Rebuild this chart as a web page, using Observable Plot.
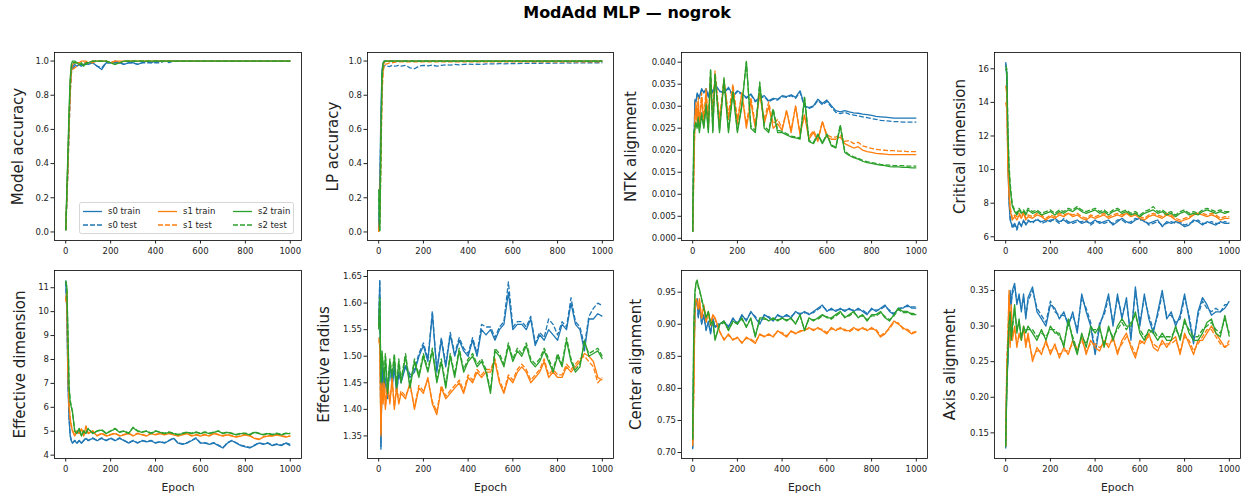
<!DOCTYPE html>
<html>
<head>
<meta charset="utf-8">
<script src="https://cdn.jsdelivr.net/npm/d3@7"></script>
<script src="https://cdn.jsdelivr.net/npm/@observablehq/plot@0.6"></script>
<style>
  body { margin: 0; background: #fff; }
  #fig { position: relative; width: 1252px; height: 499px; font-family: "DejaVu Sans", sans-serif; overflow: hidden; }
  #title { position: absolute; left: 0; top: 3px; width: 1254px; text-align: center; font: bold 16px "DejaVu Sans", sans-serif; color: #000; }
  .panel { position: absolute; }
  .panel g[aria-label="y-axis label"] { font-size: 15px; }
  .panel g[aria-label="x-axis label"] { font-size: 10.8px; }
  #legend { position: absolute; }
</style>
</head>
<body>
<div id="fig"><div id="title">ModAdd MLP — nogrok</div></div>
<script>
// ---------- data ----------
const epochs = [0,5,10,15,20,25,30,40,50,60,70,80,90,100,
  120,140,160,180,200, 220,240,260,280,300, 320,340,360,380,400,
  420,440,460,480,500, 520,540,560,580,600, 620,640,660,680,700,
  720,740,760,780,800, 820,840,860,880,900, 920,940,960,980,1000];

const seedNames = ["s0", "s1", "s2"];
const splitNames = ["train", "test"];
const xTicks = [0, 200, 400, 600, 800, 1000];

// Model accuracy
const accS0Train = [0.01,0.2,0.4,0.65,0.85,0.94,0.97,0.98,0.97,0.98,0.97,0.98,0.99,0.98, 0.99,0.97,0.95,0.99,0.99, 1,0.99,0.98,0.99,0.99, 0.98,0.99,1,0.99,1, 1,1,1,1,1, 1,1,1,1,1, 1,1,1,1,1, 1,1,1,1,1, 1,1,1,1,1, 1,1,1,1,1];
const accS0Test  = [0.01,0.18,0.38,0.6,0.82,0.93,0.96,0.97,0.97,0.98,0.97,0.98,0.98,0.98, 0.99,0.97,0.96,0.99,0.99, 0.99,0.99,0.98,0.99,0.99, 0.98,0.99,0.99,0.99,0.99, 0.99,1,0.99,1,1, 1,1,1,1,1, 1,1,1,1,1, 1,1,1,1,1, 1,1,1,1,1, 1,1,1,1,1];
const accS1Train = [0.01,0.22,0.42,0.66,0.86,0.95,0.98,0.99,0.99,0.99,1,1,1,0.99, 1,1,1,1,0.99, 1,1,1,1,1, 1,1,1,1,1, 1,1,1,1,1, 1,1,1,1,1, 1,1,1,1,1, 1,1,1,1,1, 1,1,1,1,1, 1,1,1,1,1];
const accS1Test  = [0.01,0.18,0.36,0.6,0.8,0.93,0.95,0.96,0.97,0.98,0.98,0.99,0.99,0.99, 0.99,1,1,1,0.99, 1,0.99,1,1,1, 1,1,1,1,1, 1,1,1,1,1, 1,1,1,1,1, 1,1,1,1,1, 1,1,1,1,1, 1,1,1,1,1, 1,1,1,1,1];
const accS2Train = [0.01,0.25,0.48,0.72,0.9,0.98,1,1,0.99,0.98,0.99,0.97,0.99,0.99, 1,1,1,1,0.99, 0.98,0.99,1,1,1, 1,1,1,1,1, 1,1,1,1,1, 1,1,1,1,1, 1,1,1,1,1, 1,1,1,1,1, 1,1,1,1,1, 1,1,1,1,1];
const accS2Test  = [0.01,0.22,0.44,0.68,0.88,0.97,0.99,0.99,0.99,0.98,0.98,0.97,0.98,0.99, 1,1,1,1,0.99, 0.98,0.99,1,1,1, 1,1,1,1,1, 1,1,1,1,1, 1,1,1,1,1, 1,1,1,1,1, 1,1,1,1,1, 1,1,1,1,1, 1,1,1,1,1];

// LP accuracy
const lpS0Train = [0.02,0.3,0.7,0.95,0.99,1,1,1,1,1,1,1,1,1, 1,1,1,1,1, 1,1,1,1,1, 1,1,1,1,1, 1,1,1,1,1, 1,1,1,1,1, 1,1,1,1,1, 1,1,1,1,1, 1,1,1,1,1, 1,1,1,1,1];
const lpS0Test  = [0.01,0.25,0.6,0.9,0.96,0.97,0.975,0.97,0.968,0.975,0.97,0.972,0.975,0.97, 0.975,0.96,0.955,0.97,0.975, 0.972,0.976,0.97,0.975,0.978, 0.976,0.98,0.978,0.98,0.982, 0.98,0.982,0.98,0.983,0.984, 0.983,0.985,0.984,0.985,0.986, 0.985,0.986,0.986,0.987,0.987, 0.987,0.988,0.987,0.988,0.988, 0.988,0.989,0.988,0.989,0.989, 0.989,0.99,0.99,0.99,0.99];
const lpS1Train = [0,0.1,0.5,0.85,0.97,0.99,1,1,1,1,1,1,1,1, 1,1,1,1,1, 1,1,1,1,1, 1,1,1,1,1, 1,1,1,1,1, 1,1,1,1,1, 1,1,1,1,1, 1,1,1,1,1, 1,1,1,1,1, 1,1,1,1,1];
const lpS1Test  = [0,0.05,0.4,0.8,0.94,0.97,0.98,0.985,0.99,0.99,0.992,0.995,0.995,0.995, 0.995,0.995,0.995,0.995,0.995, 0.995,0.995,0.995,0.995,0.995, 0.995,0.995,0.995,0.995,0.995, 0.995,0.995,0.995,0.995,0.995, 0.995,0.995,0.995,0.995,0.995, 0.995,0.995,0.995,0.995,0.995, 0.995,0.995,0.995,0.995,0.995, 0.995,0.995,0.995,0.995,0.995, 0.995,0.995,0.995,0.995,0.995];
const lpS2Train = [0.25,0.01,0.55,0.93,0.99,1,1,1,1,1,1,1,1,1, 1,1,1,1,1, 1,1,1,1,1, 1,1,1,1,1, 1,1,1,1,1, 1,1,1,1,1, 1,1,1,1,1, 1,1,1,1,1, 1,1,1,1,1, 1,1,1,1,1];
const lpS2Test  = [0.2,0,0.45,0.9,0.98,1,1,1,1,1,1,1,1,1, 1,1,1,1,1, 1,1,1,1,1, 1,1,1,1,1, 1,1,1,1,1, 1,1,1,1,1, 1,1,1,1,1, 1,1,1,1,1, 1,1,1,1,1, 1,1,1,1,1];

// NTK alignment
const ntkS0Train = [0.0015,0.02,0.0315,0.031,0.033,0.0325,0.032,0.034,0.033,0.034,0.032,0.0345,0.033,0.035, 0.0335,0.033,0.0343,0.0324,0.0335, 0.0329,0.032,0.0328,0.0312,0.032, 0.0324,0.0312,0.0318,0.0316,0.0324, 0.0322,0.0326,0.032,0.0335,0.0301, 0.0297,0.0301,0.0316,0.0306,0.0314, 0.0301,0.029,0.0287,0.029,0.0287, 0.0285,0.0284,0.0282,0.0281,0.0279, 0.0277,0.0276,0.0275,0.0274,0.0273, 0.0273,0.0273,0.0273,0.0273,0.0273];
const ntkS0Test  = [0.0015,0.019,0.031,0.0312,0.0328,0.0322,0.0318,0.0338,0.0332,0.0338,0.0322,0.0342,0.0332,0.0348, 0.0333,0.0332,0.034,0.0322,0.0333, 0.0327,0.0318,0.0326,0.031,0.0318, 0.0322,0.031,0.0316,0.0314,0.0322, 0.032,0.0324,0.0318,0.0332,0.0299, 0.0295,0.0299,0.0313,0.0303,0.0311, 0.0298,0.0286,0.0283,0.0286,0.0282, 0.028,0.0278,0.0276,0.0274,0.0272, 0.027,0.0268,0.0267,0.0266,0.0265, 0.0265,0.0264,0.0264,0.0264,0.0264];
const ntkS1Train = [0.0015,0.015,0.027,0.03,0.026,0.031,0.025,0.032,0.026,0.033,0.025,0.036,0.027,0.037, 0.026,0.036,0.027,0.034,0.026, 0.033,0.025,0.031,0.025,0.033, 0.026,0.03,0.025,0.026,0.0245, 0.029,0.024,0.03,0.0235,0.028, 0.0225,0.024,0.022,0.0265,0.023, 0.0225,0.0225,0.023,0.0215,0.021, 0.0205,0.0208,0.02,0.0197,0.0195, 0.0193,0.0192,0.0191,0.019,0.019, 0.019,0.019,0.019,0.019,0.019];
const ntkS1Test  = [0.0015,0.014,0.028,0.031,0.027,0.032,0.026,0.033,0.027,0.034,0.026,0.037,0.028,0.038, 0.027,0.036,0.028,0.035,0.027, 0.033,0.026,0.032,0.026,0.033, 0.027,0.031,0.026,0.027,0.025, 0.029,0.0245,0.03,0.024,0.028, 0.023,0.0245,0.0225,0.0265,0.0235, 0.023,0.023,0.0235,0.022,0.0222, 0.0215,0.0218,0.021,0.0207,0.0204, 0.0202,0.0201,0.02,0.0199,0.0199, 0.0198,0.0198,0.0197,0.0197,0.0197];
const ntkS2Train = [0.0015,0.024,0.025,0.026,0.025,0.027,0.024,0.028,0.025,0.03,0.024,0.038,0.024,0.037, 0.024,0.036,0.024,0.033,0.024, 0.03,0.0402,0.025,0.024,0.035, 0.025,0.024,0.029,0.024,0.024, 0.0235,0.023,0.0228,0.0225,0.032, 0.022,0.0215,0.0235,0.0215,0.0235, 0.021,0.0205,0.0255,0.0195,0.0188, 0.0183,0.018,0.0175,0.0172,0.017, 0.0168,0.0166,0.0165,0.0163,0.0162, 0.0162,0.0161,0.0161,0.016,0.016];
const ntkS2Test  = [0.0015,0.023,0.0255,0.0265,0.0255,0.0275,0.0245,0.0285,0.0255,0.0305,0.0245,0.0385,0.0245,0.0375, 0.0245,0.0365,0.0245,0.0335,0.0245, 0.0305,0.04,0.0255,0.0245,0.0355, 0.0255,0.0245,0.0295,0.0245,0.0243, 0.0238,0.0232,0.023,0.0228,0.032, 0.0222,0.0218,0.0237,0.0217,0.0237, 0.0212,0.0207,0.0258,0.0198,0.019, 0.0185,0.0182,0.0177,0.0174,0.0172, 0.017,0.0168,0.0167,0.0166,0.0165, 0.0165,0.0165,0.0164,0.0164,0.0164];

// Critical dimension
const cdS0Train = [16.3,15.5,10.5,8.0,7.0,6.8,6.6,6.8,6.5,6.9,6.6,7.0,6.7,6.9, 6.9,7.0,6.9,7.0,6.9, 7.1,6.9,7.0,6.8,6.9, 7.0,6.8,6.9,6.8,7.0, 6.8,6.9,7.0,6.7,6.9, 7.1,6.9,6.8,7.0,7.1, 6.9,6.8,6.9,7.0,6.6, 6.9,6.8,6.9,6.8,6.6, 6.7,7.0,6.9,6.7,6.9, 6.8,6.7,6.9,6.8,6.8];
const cdS0Test  = [16.4,15.8,11.0,8.3,7.1,6.9,6.5,6.7,6.4,6.8,6.7,6.9,6.8,7.0, 6.8,7.1,6.8,6.9,7.0, 7.0,6.8,7.1,6.9,6.8, 6.9,6.9,7.0,6.7,6.9, 6.9,6.8,6.9,6.8,7.0, 7.0,6.8,6.9,7.1,7.0, 7.0,6.7,6.8,6.9,6.7, 6.8,6.9,6.8,6.9,6.7, 6.8,6.9,7.0,6.8,6.8, 6.9,6.8,6.8,6.9,6.85];
const cdS1Train = [15.0,14.5,10.0,8.5,7.6,7.3,7.0,7.2,7.0,7.3,7.1,7.4,7.0,7.2, 7.1,7.3,7.2,7.0,7.2, 7.1,7.3,7.2,7.4,7.2, 7.3,7.1,7.0,7.2,7.1, 7.2,7.3,7.1,7.2,7.3, 7.2,7.4,7.2,7.3,7.1, 7.0,7.2,7.3,7.2,7.1, 7.3,7.2,7.0,6.9,7.0, 7.1,7.3,7.4,7.3,7.2, 7.3,7.2,7.0,7.1,7.1];
const cdS1Test  = [14.0,13.6,10.5,8.8,7.8,7.4,7.1,7.3,7.2,7.4,7.2,7.5,7.1,7.3, 7.2,7.4,7.3,7.1,7.3, 7.2,7.4,7.3,7.4,7.3, 7.4,7.2,7.1,7.3,7.2, 7.3,7.4,7.2,7.3,7.4, 7.3,7.4,7.3,7.4,7.2, 7.1,7.3,7.4,7.3,7.2, 7.4,7.3,7.1,7.0,7.1, 7.2,7.3,7.4,7.4,7.3, 7.4,7.3,7.1,7.2,7.2];
const cdS2Train = [16.0,15.8,12.0,10.0,9.0,8.3,7.8,7.5,7.3,7.6,7.4,7.5,7.3,7.6, 7.4,7.5,7.3,7.4,7.5, 7.3,7.5,7.4,7.6,7.5, 7.7,7.5,7.4,7.5,7.6, 7.4,7.5,7.3,7.5,7.6, 7.4,7.5,7.3,7.4,7.2, 7.4,7.5,7.6,7.4,7.5, 7.3,7.4,7.2,7.4,7.5, 7.3,7.4,7.3,7.5,7.6, 7.5,7.4,7.5,7.4,7.5];
const cdS2Test  = [16.2,16.0,12.5,10.3,9.2,8.5,7.9,7.6,7.4,7.7,7.5,7.6,7.4,7.7, 7.5,7.6,7.4,7.5,7.6, 7.4,7.6,7.5,7.7,7.6, 7.8,7.6,7.5,7.6,7.7, 7.5,7.6,7.4,7.6,7.7, 7.5,7.6,7.4,7.5,7.3, 7.5,7.6,7.8,7.5,7.6, 7.4,7.5,7.3,7.5,7.6, 7.4,7.5,7.4,7.6,7.7, 7.6,7.5,7.6,7.5,7.5];

// Effective dimension
const edS0Train = [11.3,10.0,7.0,5.5,4.8,4.6,4.5,4.6,4.5,4.6,4.5,4.6,4.7,4.6, 4.7,4.6,4.7,4.6,4.7, 4.6,4.7,4.6,4.5,4.6, 4.5,4.6,4.55,4.6,4.5, 4.55,4.5,4.6,4.7,4.5, 4.45,4.5,4.6,4.7,4.5, 4.5,4.45,4.5,4.4,4.3, 4.5,4.6,4.5,4.4,4.35, 4.3,4.4,4.5,4.45,4.5, 4.4,4.45,4.4,4.5,4.4];
const edS0Test  = [11.25,10.1,7.1,5.55,4.82,4.62,4.52,4.62,4.52,4.62,4.52,4.62,4.72,4.62, 4.72,4.62,4.72,4.62,4.72, 4.62,4.72,4.62,4.52,4.62, 4.52,4.62,4.57,4.62,4.52, 4.57,4.52,4.62,4.72,4.52, 4.47,4.52,4.62,4.72,4.52, 4.52,4.47,4.52,4.42,4.32, 4.52,4.62,4.52,4.42,4.37, 4.32,4.42,4.52,4.47,4.52, 4.42,4.47,4.42,4.52,4.45];
const edS1Train = [10.4,10.8,7.5,6.0,5.5,5.2,5.0,4.8,5.0,4.9,5.1,4.8,5.2,4.9, 5.0,4.8,4.9,4.8,4.85, 4.9,4.8,4.85,4.9,4.8, 4.9,4.85,4.8,4.9,4.85, 4.9,4.85,4.9,4.85,4.8, 4.85,4.9,4.8,4.85,4.8, 4.85,4.8,4.9,4.85,4.8, 4.85,4.8,4.75,4.8,4.85, 4.8,4.7,4.65,4.75,4.8, 4.8,4.85,4.8,4.75,4.8];
const edS1Test  = [10.5,10.85,7.6,6.1,5.55,5.25,5.05,4.82,5.02,4.92,5.12,4.82,5.22,4.92, 5.02,4.82,4.92,4.82,4.87, 4.92,4.82,4.87,4.92,4.82, 4.92,4.87,4.82,4.92,4.87, 4.92,4.87,4.92,4.87,4.82, 4.87,4.92,4.82,4.87,4.82, 4.87,4.82,4.92,4.87,4.82, 4.87,4.82,4.77,4.82,4.87, 4.82,4.72,4.67,4.77,4.82, 4.82,4.87,4.82,4.77,4.82];
const edS2Train = [11.3,11.0,9.0,6.8,6.2,6.0,5.8,5.0,4.9,5.1,4.8,5.0,4.9,5.1, 4.9,5.0,5.05,4.9,5.0, 5.1,4.95,5.0,4.9,5.15, 5.0,4.95,5.0,4.9,5.0, 4.95,4.9,4.95,4.9,4.85, 4.9,4.95,4.9,4.95,4.9, 4.95,4.9,4.95,5.0,4.9, 4.95,4.9,4.85,4.9,4.9, 4.85,4.95,4.9,4.85,4.9, 4.85,4.9,4.85,4.9,4.9];
const edS2Test  = [11.25,11.05,9.1,6.9,6.3,6.05,5.85,5.02,4.92,5.12,4.82,5.02,4.92,5.12, 4.92,5.02,5.07,4.92,5.02, 5.12,4.97,5.02,4.92,5.17, 5.02,4.97,5.02,4.92,5.02, 4.97,4.92,4.97,4.92,4.87, 4.92,4.97,4.92,4.97,4.92, 4.97,4.92,4.97,5.02,4.92, 4.97,4.92,4.87,4.92,4.92, 4.87,4.97,4.92,4.87,4.92, 4.87,4.92,4.87,4.92,4.92];

// Effective radius
const erS0Train = [1.56,1.64,1.33,1.48,1.44,1.47,1.45,1.42,1.49,1.44,1.48,1.43,1.47,1.45, 1.48,1.46,1.47,1.50,1.52, 1.49,1.58,1.47,1.53,1.48, 1.54,1.50,1.53,1.51,1.50, 1.53,1.50,1.55,1.54,1.55, 1.53,1.55,1.56,1.62,1.55, 1.56,1.56,1.55,1.57,1.52, 1.54,1.53,1.55,1.54,1.53, 1.56,1.55,1.60,1.56,1.55, 1.51,1.57,1.57,1.58,1.575];
const erS0Test  = [1.555,1.645,1.325,1.485,1.445,1.465,1.455,1.425,1.485,1.445,1.485,1.435,1.465,1.455, 1.485,1.465,1.475,1.505,1.525, 1.495,1.585,1.475,1.535,1.485, 1.545,1.505,1.535,1.515,1.505, 1.535,1.505,1.56,1.555,1.555, 1.535,1.555,1.565,1.64,1.555, 1.565,1.565,1.555,1.575,1.525, 1.545,1.535,1.57,1.56,1.54, 1.565,1.555,1.61,1.565,1.555, 1.52,1.575,1.59,1.60,1.595];
const erS1Train = [1.53,1.52,1.35,1.45,1.41,1.46,1.40,1.45,1.41,1.46,1.40,1.44,1.41,1.43, 1.42,1.45,1.40,1.44,1.43, 1.46,1.41,1.39,1.44,1.42, 1.43,1.44,1.45,1.43,1.46, 1.45,1.47,1.46,1.47,1.47, 1.49,1.45,1.43,1.46,1.45, 1.47,1.48,1.47,1.45,1.46, 1.47,1.49,1.46,1.47,1.46, 1.46,1.48,1.47,1.48,1.49, 1.505,1.50,1.49,1.46,1.455];
const erS1Test  = [1.535,1.525,1.355,1.445,1.415,1.455,1.405,1.445,1.415,1.455,1.405,1.445,1.415,1.435, 1.425,1.445,1.405,1.445,1.435, 1.455,1.415,1.395,1.445,1.425, 1.435,1.445,1.455,1.435,1.465, 1.455,1.475,1.465,1.475,1.475, 1.495,1.455,1.435,1.465,1.455, 1.475,1.485,1.475,1.455,1.465, 1.475,1.495,1.465,1.475,1.465, 1.465,1.485,1.475,1.485,1.495, 1.50,1.49,1.48,1.45,1.46];
const erS2Train = [1.55,1.61,1.45,1.51,1.48,1.45,1.50,1.43,1.49,1.46,1.50,1.44,1.49,1.45, 1.50,1.44,1.49,1.46,1.50, 1.47,1.51,1.45,1.49,1.44, 1.50,1.46,1.51,1.47,1.49, 1.50,1.48,1.49,1.47,1.43, 1.51,1.50,1.48,1.52,1.49, 1.51,1.50,1.52,1.49,1.48, 1.49,1.51,1.49,1.47,1.50, 1.48,1.53,1.49,1.47,1.48, 1.53,1.50,1.505,1.51,1.495];
const erS2Test  = [1.555,1.605,1.455,1.505,1.485,1.455,1.505,1.435,1.495,1.465,1.505,1.445,1.495,1.455, 1.505,1.445,1.495,1.465,1.505, 1.475,1.515,1.455,1.495,1.445, 1.505,1.465,1.515,1.475,1.495, 1.505,1.485,1.495,1.475,1.435, 1.515,1.505,1.485,1.525,1.495, 1.515,1.505,1.525,1.495,1.485, 1.495,1.515,1.495,1.475,1.505, 1.485,1.535,1.495,1.475,1.485, 1.525,1.505,1.51,1.515,1.50];

// Center alignment
const caS0Train = [0.705,0.85,0.92,0.935,0.94,0.91,0.93,0.90,0.915,0.89,0.905,0.885,0.91,0.895, 0.90,0.905,0.895,0.91,0.90, 0.915,0.905,0.92,0.91,0.90, 0.915,0.91,0.905,0.915,0.91, 0.915,0.91,0.92,0.915,0.92, 0.915,0.92,0.925,0.93,0.92, 0.925,0.92,0.925,0.92,0.925, 0.92,0.925,0.92,0.915,0.925, 0.92,0.925,0.93,0.92,0.915, 0.925,0.925,0.93,0.925,0.925];
const caS0Test  = [0.707,0.845,0.918,0.933,0.938,0.912,0.928,0.902,0.913,0.892,0.903,0.887,0.908,0.897, 0.902,0.903,0.897,0.908,0.902, 0.913,0.907,0.918,0.912,0.902, 0.913,0.912,0.907,0.913,0.912, 0.913,0.912,0.918,0.917,0.918, 0.917,0.918,0.923,0.928,0.922, 0.923,0.922,0.923,0.922,0.923, 0.922,0.923,0.922,0.917,0.923, 0.922,0.923,0.928,0.922,0.917, 0.923,0.927,0.928,0.927,0.927];
const caS1Train = [0.71,0.80,0.93,0.94,0.935,0.925,0.94,0.91,0.93,0.905,0.92,0.90,0.915,0.91, 0.89,0.875,0.885,0.875,0.88, 0.87,0.88,0.875,0.87,0.885, 0.88,0.885,0.88,0.89,0.885, 0.88,0.89,0.885,0.89,0.89, 0.895,0.89,0.895,0.89,0.885, 0.895,0.89,0.895,0.89,0.89, 0.895,0.89,0.895,0.89,0.895, 0.89,0.88,0.885,0.895,0.905, 0.90,0.895,0.89,0.885,0.888];
const caS1Test  = [0.715,0.79,0.925,0.938,0.932,0.922,0.936,0.908,0.928,0.903,0.918,0.898,0.913,0.908, 0.888,0.877,0.883,0.877,0.878, 0.872,0.878,0.877,0.872,0.883, 0.882,0.883,0.882,0.888,0.887, 0.882,0.888,0.887,0.888,0.892, 0.893,0.892,0.893,0.892,0.887, 0.893,0.892,0.893,0.892,0.888, 0.893,0.892,0.893,0.892,0.893, 0.892,0.882,0.887,0.893,0.903, 0.902,0.893,0.892,0.887,0.889];
const caS2Train = [0.72,0.90,0.95,0.965,0.969,0.96,0.955,0.94,0.925,0.91,0.92,0.90,0.905,0.875, 0.90,0.905,0.89,0.905,0.90, 0.91,0.895,0.91,0.88,0.91, 0.91,0.905,0.91,0.905,0.91, 0.905,0.91,0.90,0.915,0.89, 0.91,0.905,0.91,0.915,0.91, 0.91,0.915,0.92,0.91,0.915, 0.92,0.91,0.915,0.905,0.915, 0.915,0.92,0.91,0.905,0.915, 0.925,0.92,0.92,0.915,0.915];
const caS2Test  = [0.722,0.89,0.947,0.963,0.967,0.958,0.953,0.938,0.923,0.912,0.918,0.902,0.903,0.877, 0.898,0.903,0.892,0.903,0.902, 0.908,0.897,0.908,0.882,0.908, 0.908,0.907,0.908,0.907,0.908, 0.907,0.908,0.902,0.913,0.892, 0.908,0.907,0.908,0.913,0.912, 0.908,0.913,0.918,0.912,0.913, 0.918,0.912,0.913,0.907,0.913, 0.913,0.918,0.912,0.907,0.913, 0.923,0.918,0.918,0.917,0.916];

// Axis alignment
const aaS0Train = [0.13,0.22,0.25,0.30,0.35,0.33,0.35,0.36,0.33,0.345,0.32,0.345,0.31,0.34, 0.355,0.32,0.31,0.30,0.33, 0.325,0.31,0.32,0.30,0.32, 0.29,0.345,0.32,0.30,0.26, 0.30,0.32,0.345,0.30,0.345, 0.31,0.34,0.28,0.355,0.30, 0.345,0.31,0.29,0.32,0.35, 0.31,0.32,0.30,0.315,0.345, 0.31,0.275,0.32,0.34,0.33, 0.315,0.32,0.32,0.325,0.335];
const aaS0Test  = [0.128,0.23,0.255,0.305,0.345,0.335,0.345,0.355,0.335,0.34,0.325,0.34,0.315,0.335, 0.35,0.325,0.315,0.305,0.335, 0.32,0.315,0.315,0.305,0.315, 0.295,0.34,0.325,0.305,0.265, 0.305,0.315,0.34,0.305,0.34, 0.315,0.335,0.285,0.35,0.305, 0.34,0.315,0.295,0.315,0.345, 0.315,0.315,0.305,0.31,0.34, 0.315,0.28,0.315,0.335,0.325, 0.32,0.325,0.32,0.33,0.33];
const aaS1Train = [0.135,0.24,0.28,0.35,0.27,0.33,0.28,0.30,0.27,0.29,0.28,0.30,0.27,0.29, 0.25,0.27,0.26,0.28,0.26, 0.275,0.255,0.27,0.26,0.28, 0.265,0.285,0.26,0.28,0.27, 0.265,0.28,0.27,0.285,0.26, 0.28,0.29,0.27,0.255,0.28, 0.275,0.29,0.27,0.265,0.28, 0.27,0.28,0.285,0.26,0.29, 0.275,0.26,0.28,0.28,0.29, 0.30,0.29,0.28,0.27,0.275];
const aaS1Test  = [0.13,0.25,0.29,0.345,0.275,0.325,0.285,0.295,0.275,0.285,0.285,0.295,0.275,0.285, 0.255,0.265,0.265,0.275,0.265, 0.27,0.26,0.265,0.265,0.275, 0.27,0.28,0.265,0.275,0.275, 0.27,0.275,0.275,0.28,0.265, 0.275,0.285,0.275,0.26,0.275, 0.28,0.285,0.275,0.27,0.275, 0.275,0.275,0.28,0.265,0.285, 0.28,0.265,0.275,0.285,0.295, 0.295,0.285,0.275,0.27,0.28];
const aaS2Train = [0.13,0.21,0.27,0.30,0.32,0.28,0.30,0.33,0.29,0.31,0.28,0.30,0.29,0.30, 0.29,0.28,0.295,0.28,0.30, 0.29,0.29,0.27,0.31,0.28, 0.26,0.29,0.27,0.30,0.29, 0.30,0.27,0.30,0.28,0.30, 0.31,0.30,0.30,0.32,0.29, 0.28,0.295,0.29,0.28,0.29, 0.28,0.28,0.30,0.28,0.31, 0.29,0.28,0.28,0.29,0.305, 0.31,0.29,0.285,0.315,0.285];
const aaS2Test  = [0.135,0.215,0.265,0.305,0.315,0.285,0.295,0.325,0.295,0.305,0.285,0.295,0.295,0.295, 0.295,0.285,0.29,0.285,0.295, 0.295,0.285,0.275,0.305,0.285, 0.265,0.285,0.275,0.295,0.295, 0.295,0.275,0.295,0.285,0.295, 0.305,0.295,0.305,0.315,0.295, 0.285,0.29,0.295,0.285,0.285, 0.285,0.285,0.295,0.285,0.305, 0.295,0.285,0.285,0.295,0.3, 0.305,0.295,0.29,0.31,0.29];

// ---------- panel definitions ----------
const panels = [
  {label: "Model accuracy", series: [[accS0Train, accS0Test], [accS1Train, accS1Test], [accS2Train, accS2Test]], domain: [-0.05, 1.05], ticks: [0, 0.2, 0.4, 0.6, 0.8, 1.0], fmt: ".1f", labelOffset: 42},
  {label: "LP accuracy", series: [[lpS0Train, lpS0Test], [lpS1Train, lpS1Test], [lpS2Train, lpS2Test]], domain: [-0.05, 1.05], ticks: [0, 0.2, 0.4, 0.6, 0.8, 1.0], fmt: ".1f", labelOffset: 40},
  {label: "NTK alignment", series: [[ntkS0Train, ntkS0Test], [ntkS1Train, ntkS1Test], [ntkS2Train, ntkS2Test]], domain: [-0.0005, 0.0422], ticks: [0, 0.005, 0.01, 0.015, 0.02, 0.025, 0.03, 0.035, 0.04], fmt: ".3f", labelOffset: 56},
  {label: "Critical dimension", series: [[cdS0Train, cdS0Test], [cdS1Train, cdS1Test], [cdS2Train, cdS2Test]], domain: [5.78, 16.97], ticks: [6, 8, 10, 12, 14, 16], fmt: "d", labelOffset: 40},
  {label: "Effective dimension", series: [[edS0Train, edS0Test], [edS1Train, edS1Test], [edS2Train, edS2Test]], domain: [3.86, 11.72], ticks: [4, 5, 6, 7, 8, 9, 10, 11], fmt: "d", labelOffset: 40},
  {label: "Effective radius", series: [[erS0Train, erS0Test], [erS1Train, erS1Test], [erS2Train, erS2Test]], domain: [1.3075, 1.6613], ticks: [1.35, 1.40, 1.45, 1.50, 1.55, 1.60, 1.65], fmt: ".2f", labelOffset: 49},
  {label: "Center alignment", series: [[caS0Train, caS0Test], [caS1Train, caS1Test], [caS2Train, caS2Test]], domain: [0.6907, 0.9838], ticks: [0.70, 0.75, 0.80, 0.85, 0.90, 0.95], fmt: ".2f", labelOffset: 51},
  {label: "Axis alignment", series: [[aaS0Train, aaS0Test], [aaS1Train, aaS1Test], [aaS2Train, aaS2Test]], domain: [0.114, 0.378], ticks: [0.15, 0.20, 0.25, 0.30, 0.35], fmt: ".2f", labelOffset: 50}
];

// ---------- layout ----------
const colors = ["#1f77b4", "#ff7f0e", "#2ca02c"];
const dashes = [null, "5,2"];
const cols = [[54, 301], [367, 613], [681, 927], [994, 1240]];
const rows = [[52, 240], [270, 458]];
const mL = 70, mR = 8, mT = 8, mB = 42;

const fig = document.getElementById("fig");

panels.forEach((p, i) => {
  const [L, R] = cols[i % 4];
  const [T, B] = rows[Math.floor(i / 4)];
  const bottomRow = i >= 4;
  const marks = [];
  p.series.forEach((pair, s) => {
    pair.forEach((arr, k) => {
      const data = epochs.map((e, j) => ({epoch: e, value: arr[j]}));
      marks.push(Plot.line(data, {
        x: "epoch", y: "value", stroke: colors[s], strokeWidth: 1.3,
        strokeDasharray: dashes[k], strokeLinejoin: "round", strokeLinecap: "butt"
      }));
    });
  });
  marks.push(Plot.frame({stroke: "#000", strokeWidth: 0.8}));
  marks.push(Plot.axisX({ticks: xTicks, tickSize: 3.5, tickPadding: 4, tickFormat: d3.format("d"),
    label: bottomRow ? "Epoch" : null, labelAnchor: "center", labelOffset: 32, labelArrow: "none"}));
  marks.push(Plot.axisY({ticks: p.ticks, tickSize: 3.5, tickPadding: 2, tickFormat: d3.format(p.fmt),
    label: p.label, labelAnchor: "center", labelOffset: p.labelOffset, labelArrow: "none"}));
  const svg = Plot.plot({
    width: (R - L) + mL + mR,
    height: (B - T) + mT + mB,
    marginLeft: mL, marginRight: mR, marginTop: mT, marginBottom: mB,
    x: {domain: [-50, 1050]},
    y: {domain: p.domain},
    style: {fontFamily: "'DejaVu Sans', sans-serif", fontSize: "8.5px", color: "#222", background: "transparent", overflow: "visible"},
    marks
  });
  svg.classList.add("panel");
  svg.style.left = (L - mL) + "px";
  svg.style.top = (T - mT) + "px";
  fig.appendChild(svg);
});

// ---------- legend (inside first panel) ----------
const lg = d3.create("svg").attr("id", "legend").attr("width", 216).attr("height", 33)
  .style("left", "79px").style("top", "202px");
lg.append("rect").attr("x", 0.5).attr("y", 0.5).attr("width", 214).attr("height", 31).attr("rx", 2)
  .attr("fill", "rgba(255,255,255,0.8)").attr("stroke", "#cccccc").attr("stroke-width", 0.8);
const colX = [4, 79, 154];
seedNames.forEach((sn, s) => {
  splitNames.forEach((sp, k) => {
    const y = k === 0 ? 9.5 : 23;
    lg.append("line").attr("x1", colX[s]).attr("x2", colX[s] + 19).attr("y1", y).attr("y2", y)
      .attr("stroke", colors[s]).attr("stroke-width", 1.3).attr("stroke-dasharray", dashes[k]);
    lg.append("text").attr("x", colX[s] + 25).attr("y", y).attr("dy", "0.35em")
      .attr("font-family", "'DejaVu Sans', sans-serif").attr("font-size", "8.5px").attr("fill", "#222")
      .text(`${sn} ${sp}`);
  });
});
lg.style("position", "absolute");
fig.appendChild(lg.node());
</script>
</body>
</html>
